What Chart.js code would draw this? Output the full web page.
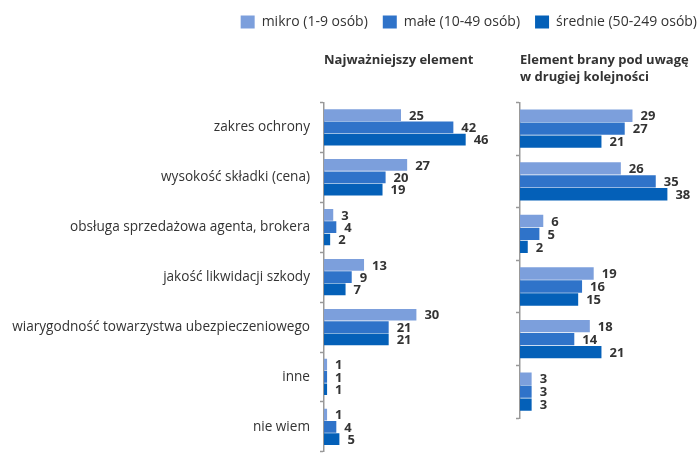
<!DOCTYPE html>
<html>
<head>
<meta charset="utf-8">
<script src="https://cdn.jsdelivr.net/npm/chart.js@4.4.1/dist/chart.umd.min.js"></script>
<style>
    html, body { margin: 0; padding: 0; width: 698px; height: 466px; overflow: hidden; background: #fff; }
    #chart-left { position: absolute; left: 0; top: 0; }
    #chart-right { position: absolute; left: 0; top: 0; }
</style>
</head>
<body>
<canvas id="chart-left" width="505" height="470"></canvas>
<canvas id="chart-right" width="712" height="468"></canvas>
<script>
// categories (the right panel has no "nie wiem" row)
var categories = ['zakres ochrony', 'wysokość składki (cena)', 'obsługa sprzedażowa agenta, brokera',
    'jakość likwidacji szkody', 'wiarygodność towarzystwa ubezpieczeniowego', 'inne', 'nie wiem'];
var seriesNames = ['mikro (1-9 osób)', 'małe (10-49 osób)', 'średnie (50-249 osób)'];

// Najważniejszy element
var mikroFirst = [25, 27, 3, 13, 30, 1, 1];
var maleFirst = [42, 20, 4, 9, 21, 1, 4];
var srednieFirst = [46, 19, 2, 7, 21, 1, 5];

// Element brany pod uwagę w drugiej kolejności
var mikroSecond = [29, 26, 6, 19, 18, 3];
var maleSecond = [27, 35, 5, 16, 14, 3];
var srednieSecond = [21, 38, 2, 15, 21, 3];

var colors = ['#7c9fdc', '#2f73c9', '#0460b8'];
var fontName = '"Open Sans", "Noto Sans", sans-serif';

// draws the value next to every bar
var valueLabels = {
    id: 'valueLabels',
    afterDatasetsDraw: function (chart) {
        var ctx = chart.ctx;
        ctx.save();
        ctx.font = 'bold 13px ' + fontName;
        ctx.fillStyle = '#333333';
        ctx.textAlign = 'left';
        ctx.textBaseline = 'middle';
        chart.data.datasets.forEach(function (ds, i) {
            var meta = chart.getDatasetMeta(i);
            meta.data.forEach(function (bar, j) {
                ctx.fillText(ds.data[j], bar.x + 8, bar.y + 1);
            });
        });
        ctx.restore();
    }
};

function makeDatasets(a, b, c) {
    return [a, b, c].map(function (values, i) {
        return {
            label: seriesNames[i],
            data: values,
            backgroundColor: colors[i],
            borderWidth: 0,
            barPercentage: 0.95,
            categoryPercentage: 0.74
        };
    });
}

function yAxis(width, showLabels) {
    return {
        afterFit: function (scale) { scale.width = width; },
        grid: { drawOnChartArea: false, offset: true, tickLength: 4, color: '#999999', tickWidth: 1.5 },
        border: { display: true, color: '#999999', width: 1.5 },
        ticks: { display: showLabels, color: '#333333', padding: 10, font: { family: fontName, size: 13.6 } }
    };
}

var ctx1 = document.getElementById('chart-left').getContext('2d');
var chartLeft = new Chart(ctx1, {
    type: 'bar',
    data: {
        labels: categories,
        datasets: makeDatasets(mikroFirst, maleFirst, srednieFirst)
    },
    options: {
        responsive: false,
        animation: false,
        indexAxis: 'y',
        layout: { padding: { top: 0, right: 27, bottom: 0, left: 0 } },
        scales: {
            x: { display: false, min: 0, max: 50 },
            y: yAxis(324, true)
        },
        plugins: {
            legend: { display: false },
            tooltip: { enabled: false },
            title: {
                display: true,
                text: 'Najważniejszy element',
                align: 'start',
                fullSize: false,
                color: '#333333',
                font: { family: fontName, size: 13, weight: 'bold', lineHeight: 1.3 },
                padding: { top: 51.5, bottom: 34 }
            }
        }
    },
    plugins: [valueLabels]
});

var ctx2 = document.getElementById('chart-right').getContext('2d');
var chartRight = new Chart(ctx2, {
    type: 'bar',
    data: {
        labels: categories.slice(0, 6),
        datasets: makeDatasets(mikroSecond, maleSecond, srednieSecond)
    },
    options: {
        responsive: false,
        animation: false,
        indexAxis: 'y',
        layout: { padding: { top: 0, right: 0, bottom: 50, left: 0 } },
        scales: {
            x: { display: false, min: 0, max: 49.5 },
            y: yAxis(520, false)
        },
        plugins: {
            tooltip: { enabled: false },
            legend: {
                position: 'top',
                align: 'end',
                labels: {
                    boxWidth: 14,
                    boxHeight: 13,
                    padding: 15,
                    color: '#333333',
                    font: { family: fontName, size: 14 }
                }
            },
            title: {
                display: true,
                text: ['Element brany pod uwagę', 'w drugiej kolejności'],
                align: 'start',
                fullSize: false,
                weight: 500,
                color: '#333333',
                font: { family: fontName, size: 13, weight: 'bold', lineHeight: 1.3 },
                padding: { top: 12.5, bottom: 17.1 }
            }
        }
    },
    plugins: [valueLabels]
});
</script>
</body>
</html>
